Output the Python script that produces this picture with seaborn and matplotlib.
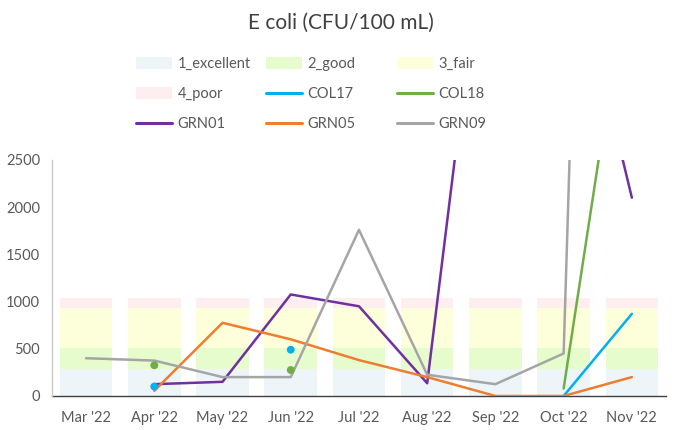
import numpy as np
import pandas as pd
import matplotlib
matplotlib.use('Agg')
import matplotlib.pyplot as plt
from matplotlib.patches import Patch
from matplotlib.lines import Line2D
import seaborn as sns

# ------------------------------------------------------------
# data
# ------------------------------------------------------------
months = ["Mar '22", "Apr '22", "May '22", "Jun '22", "Jul '22",
          "Aug '22", "Sep '22", "Oct '22", "Nov '22"]

band_names = ['1_excellent', '2_good', '3_fair', '4_poor']
band_heights = [288, 225, 418, 103]
band_colors = ['#EDF5F9', '#E6FCCD', '#FDFFDA', '#FDEFF0']

nan = np.nan
col17 = [nan, 100, nan, 490, nan, nan, nan, 0, 870]
col18 = [nan, 325, nan, 275, nan, nan, nan, 80, 4800]
grn01 = [nan, 125, 150, 1075, 950, 135, 6000, 5100, 2100]
grn05 = [nan, 55, 775, 600, 380, 200, 0, 0, 200]
grn09 = [400, 375, 200, 200, 1760, 225, 125, 450, 24196]

sites = ['COL17', 'COL18', 'GRN01', 'GRN05', 'GRN09']
site_values = [col17, col18, grn01, grn05, grn09]
site_colors = ['#00B0F0', '#70AD47', '#7030A0', '#ED7D31', '#A5A5A5']
palette = dict(zip(sites, site_colors))

# long table, with a segment id for every unbroken run of values
rows = []
for name, vals in zip(sites, site_values):
    seg, prev = 0, False
    for i, v in enumerate(vals):
        if np.isnan(v):
            prev = False
            continue
        if not prev:
            seg += 1
        rows.append({'site': name, 'pos': i, 'value': v, 'seg': seg})
        prev = True
df = pd.DataFrame(rows)
df['n'] = df.groupby(['site', 'seg'])['value'].transform('size')
lines_df = df[df['n'] > 1]
iso_df = df[df['n'] == 1]

# ------------------------------------------------------------
# plot
# ------------------------------------------------------------
sns.set_style('white')
plt.rcParams['font.family'] = ['Lato', 'DejaVu Sans']
TXT = '#595959'

fig = plt.figure(figsize=(6.82, 4.30), dpi=100)
ax = fig.add_axes([0.0762, 0.0791, 0.9003, 0.549])

x = np.arange(len(months))
bottom = np.zeros(len(months))
for name, h, c in zip(band_names, band_heights, band_colors):
    ax.bar(x, [h] * len(months), bottom=bottom, width=0.77, color=c,
           linewidth=0, zorder=1)
    bottom = bottom + h

sns.lineplot(data=lines_df, x='pos', y='value', hue='site', units='seg',
             estimator=None, palette=palette, linewidth=1.8, legend=False,
             ax=ax, zorder=3)
sns.scatterplot(data=iso_df, x='pos', y='value', hue='site', palette=palette,
                s=32, edgecolor='none', legend=False, ax=ax, zorder=4)

ax.set_xlim(-0.5, len(months) - 0.5)
ax.set_ylim(0, 2500)
ax.set_yticks(range(0, 2501, 500))
ax.set_xticks(x)
ax.set_xticklabels(months)
ax.set_xticks([len(months) - 0.5], minor=True)
ax.set_xlabel('')
ax.set_ylabel('')

for s in ['top', 'right']:
    ax.spines[s].set_visible(False)
ax.spines['left'].set_color('#C8C8C8')
ax.spines['left'].set_linewidth(1.0)
ax.spines['bottom'].set_color('#404040')
ax.spines['bottom'].set_linewidth(1.0)
ax.spines['bottom'].set_zorder(2)
ax.tick_params(axis='both', which='both', direction='out', length=5,
               width=1, color='#C8C8C8', labelcolor=TXT, labelsize=10.5)
ax.tick_params(axis='x', pad=6)

fig.text(0.5, 0.947, 'E coli (CFU/100 mL)', ha='center', va='center',
         fontsize=15, color='#404040')

# legend: three columns, row-major order as in the reference
handles = [Patch(facecolor=c, edgecolor='none') for c in band_colors]
handles += [Line2D([0], [0], color=c, lw=2.2) for c in site_colors]
labels = band_names + sites
col_x = [136 / 682, 266 / 682, 397 / 682]
for j in range(3):
    hs = [handles[j], handles[j + 3], handles[j + 6]]
    ls = [labels[j], labels[j + 3], labels[j + 6]]
    leg = fig.legend(hs, ls, loc='upper left',
                     bbox_to_anchor=(col_x[j], 1 - 57 / 430),
                     frameon=False, fontsize=10.5, handlelength=2.5,
                     handleheight=0.9, handletextpad=0.35, labelspacing=1.1,
                     borderpad=0, borderaxespad=0, labelcolor=TXT)

fig.savefig('out.png', dpi=100)
